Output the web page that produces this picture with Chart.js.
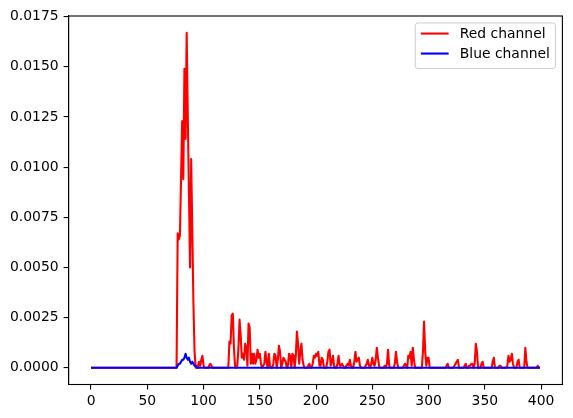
<!DOCTYPE html>
<html>
<head>
<meta charset="utf-8">
<script src="https://cdn.jsdelivr.net/npm/chart.js@4"></script>
<style>
  html, body { margin: 0; padding: 0; background: #fff; }
  canvas { display: block; }
</style>
</head>
<body>
<canvas id="myChart" width="573" height="418"></canvas>
<script>
// values, one per x index (0..399)
const redChannel = [
  0, 0, 0, 0, 0, 0, 0, 0, 0, 0,
  0, 0, 0, 0, 0, 0, 0, 0, 0, 0,
  0, 0, 0, 0, 0, 0, 0, 0, 0, 0,
  0, 0, 0, 0, 0, 0, 0, 0, 0, 0,
  0, 0, 0, 0, 0, 0, 0, 0, 0, 0,
  0, 0, 0, 0, 0, 0, 0, 0, 0, 0,
  0, 0, 0, 0, 0, 0, 0, 0, 0, 0,
  0, 0, 0, 0, 0, 0, 0, 0.0067, 0.0064, 0.0066,
  0.0095, 0.0123, 0.0094, 0.0149, 0.0114, 0.0167, 0.0125, 0.0088, 0.0050, 0.0104,
  0.0068, 0.0032, 0.0008, 0, 0.0001, 0, 0.0003, 0.0001, 0.0004, 0.0006,
  0.0001, 0, 0, 0, 0, 0.0001, 0.0002, 0.0001, 0, 0,
  0, 0, 0, 0, 0, 0, 0, 0, 0, 0,
  0, 0, 0, 0.0013, 0.0012, 0.0026, 0.0027, 0.0010, 0.0001, 0,
  0.0001, 0.0010, 0.0024, 0.0016, 0.0005, 0.0007, 0.0004, 0.0012, 0.0010, 0.0001,
  0.0022, 0.0020, 0.0002, 0.0007, 0.0002, 0.0007, 0.0002, 0.0004, 0.0009, 0.0005,
  0.0007, 0.0002, 0, 0.0001, 0.0002, 0.0008, 0.0003, 0, 0.0007, 0.0001,
  0, 0, 0.0002, 0.0007, 0.0006, 0, 0.0004, 0.0011, 0.0008, 0,
  0.0002, 0.0005, 0.0004, 0.0003, 0, 0.0001, 0.0007, 0.0006, 0, 0.0007,
  0.0006, 0, 0.0006, 0.0018, 0.0012, 0.0002, 0.0008, 0.0012, 0.0004, 0.0001,
  0, 0, 0, 0.0001, 0.0002, 0, 0, 0.0002, 0.0006, 0.0005,
  0.0007, 0.0006, 0.0008, 0.0001, 0.0001, 0.0005, 0.0004, 0, 0, 0,
  0.0003, 0.0008, 0.0009, 0.0001, 0.0003, 0.0006, 0.0001, 0, 0, 0.0002,
  0.0006, 0.0001, 0.0001, 0.0002, 0.0001, 0, 0, 0.0001, 0.0002, 0.0001,
  0.0004, 0.0001, 0, 0, 0.0003, 0.0008, 0.0003, 0.0004, 0.0005, 0.0001,
  0, 0, 0, 0, 0.0001, 0.0002, 0.0004, 0.0001, 0, 0.0002,
  0.0005, 0.0002, 0.0001, 0.0004, 0.0010, 0.0005, 0.0001, 0, 0, 0,
  0, 0.0001, 0, 0.0002, 0.0009, 0.0001, 0, 0, 0, 0,
  0.0002, 0.0008, 0.0003, 0, 0, 0, 0, 0, 0.0001, 0.0002,
  0.0001, 0, 0.0006, 0.0005, 0.0008, 0.0001, 0.0010, 0.0004, 0, 0,
  0, 0, 0, 0, 0, 0.0008, 0.0023, 0.0008, 0.0001, 0.0005,
  0.0005, 0, 0, 0, 0, 0, 0, 0, 0, 0,
  0, 0, 0, 0, 0, 0, 0.0001, 0.0002, 0, 0,
  0, 0, 0, 0.0001, 0.0002, 0.0003, 0.0004, 0, 0, 0,
  0, 0, 0.0001, 0.0002, 0, 0, 0.0001, 0.0001, 0.0002, 0.0002,
  0, 0.0002, 0.0012, 0.0008, 0, 0, 0, 0.0002, 0.0003, 0,
  0, 0, 0, 0, 0, 0, 0, 0.0003, 0.0005, 0,
  0, 0, 0, 0.0001, 0.0001, 0, 0, 0, 0, 0,
  0.0001, 0.0006, 0.0003, 0.0004, 0.0007, 0.0002, 0, 0, 0, 0.0003,
  0.0004, 0, 0, 0, 0, 0, 0.0010, 0.0003, 0, 0,
  0, 0, 0, 0, 0, 0, 0, 0.0001, 0, 0
];

const blueChannel = [
  0, 0, 0, 0, 0, 0, 0, 0, 0, 0,
  0, 0, 0, 0, 0, 0, 0, 0, 0, 0,
  0, 0, 0, 0, 0, 0, 0, 0, 0, 0,
  0, 0, 0, 0, 0, 0, 0, 0, 0, 0,
  0, 0, 0, 0, 0, 0, 0, 0, 0, 0,
  0, 0, 0, 0, 0, 0, 0, 0, 0, 0,
  0, 0, 0, 0, 0, 0, 0, 0, 0, 0,
  0, 0, 0, 0, 0, 0, 0, 0.0001, 0.0002, 0.0002,
  0.0003, 0.0004, 0.0004, 0.0005, 0.0007, 0.0005, 0.0004, 0.0005, 0.0003, 0.0002,
  0.0003, 0.0002, 0.0001, 0.0001, 0, 0, 0, 0, 0, 0,
  0, 0, 0, 0, 0, 0, 0, 0, 0, 0,
  0, 0, 0, 0, 0, 0, 0, 0, 0, 0,
  0, 0, 0, 0, 0, 0, 0, 0, 0, 0,
  0, 0, 0, 0, 0, 0, 0, 0, 0, 0,
  0, 0, 0, 0, 0, 0, 0, 0, 0, 0,
  0, 0, 0, 0, 0, 0, 0, 0, 0, 0,
  0, 0, 0, 0, 0, 0, 0, 0, 0, 0,
  0, 0, 0, 0, 0, 0, 0, 0, 0, 0,
  0, 0, 0, 0, 0, 0, 0, 0, 0, 0,
  0, 0, 0, 0, 0, 0, 0, 0, 0, 0,
  0, 0, 0, 0, 0, 0, 0, 0, 0, 0,
  0, 0, 0, 0, 0, 0, 0, 0, 0, 0,
  0, 0, 0, 0, 0, 0, 0, 0, 0, 0,
  0, 0, 0, 0, 0, 0, 0, 0, 0, 0,
  0, 0, 0, 0, 0, 0, 0, 0, 0, 0,
  0, 0, 0, 0, 0, 0, 0, 0, 0, 0,
  0, 0, 0, 0, 0, 0, 0, 0, 0, 0,
  0, 0, 0, 0, 0, 0, 0, 0, 0, 0,
  0, 0, 0, 0, 0, 0, 0, 0, 0, 0,
  0, 0, 0, 0, 0, 0, 0, 0, 0, 0,
  0, 0, 0, 0, 0, 0, 0, 0, 0, 0,
  0, 0, 0, 0, 0, 0, 0, 0, 0, 0,
  0, 0, 0, 0, 0, 0, 0, 0, 0, 0,
  0, 0, 0, 0, 0, 0, 0, 0, 0, 0,
  0, 0, 0, 0, 0, 0, 0, 0, 0, 0,
  0, 0, 0, 0, 0, 0, 0, 0, 0, 0,
  0, 0, 0, 0, 0, 0, 0, 0, 0, 0,
  0, 0, 0, 0, 0, 0, 0, 0, 0, 0,
  0, 0, 0, 0, 0, 0, 0, 0, 0, 0,
  0, 0, 0, 0, 0, 0, 0, 0, 0, 0
];

const seriesNames = ['Red channel', 'Blue channel'];
const seriesColors = ['red', 'blue'];
const xTicks = [0, 50, 100, 150, 200, 250, 300, 350, 400];
const yTicks = [0, 0.0025, 0.005, 0.0075, 0.01, 0.0125, 0.015, 0.0175];

// x position of each sample is just its index
const xValues = redChannel.map((_, i) => i);

const FONT = '"DejaVu Sans", sans-serif';
const FS = 13.9;
Chart.defaults.font.family = FONT;
Chart.defaults.font.size = FS;
Chart.defaults.color = '#000';

// matplotlib style box around the plot
const framePlugin = {
  id: 'frame',
  afterDatasetsDraw(chart) {
    const { ctx, chartArea: a } = chart;
    ctx.save();
    ctx.strokeStyle = '#000';
    ctx.lineWidth = 1.1;
    ctx.strokeRect(a.left, a.top, a.right - a.left, a.bottom - a.top);
    ctx.restore();
  }
};

// legend box in upper right, drawn by hand
const legendPlugin = {
  id: 'mplLegend',
  afterDraw(chart) {
    const { ctx, chartArea: a } = chart;
    ctx.save();
    ctx.font = `${FS}px ${FONT}`;
    const textW = Math.max(...seriesNames.map(n => ctx.measureText(n).width));
    const pad = 0.4 * FS, handle = 2 * FS, gap = 0.8 * FS;
    const w = pad + handle + gap + textW + pad;
    const h = 45.6;
    const right = a.right - 0.5 * FS;
    const top = a.top + 0.5 * FS;
    const left = right - w;
    const r = 2.8;

    ctx.beginPath();
    ctx.moveTo(left + r, top);
    ctx.arcTo(right, top, right, top + h, r);
    ctx.arcTo(right, top + h, left, top + h, r);
    ctx.arcTo(left, top + h, left, top, r);
    ctx.arcTo(left, top, right, top, r);
    ctx.closePath();
    ctx.fillStyle = 'rgba(255,255,255,0.8)';
    ctx.fill();
    ctx.strokeStyle = '#cccccc';
    ctx.lineWidth = 1;
    ctx.stroke();

    seriesNames.forEach((name, i) => {
      const y = top + 10.6 + i * 20;
      ctx.beginPath();
      ctx.moveTo(left + pad, y);
      ctx.lineTo(left + pad + handle, y);
      ctx.strokeStyle = seriesColors[i];
      ctx.lineWidth = 2.1;
      ctx.stroke();
      ctx.fillStyle = '#000';
      ctx.textBaseline = 'middle';
      ctx.textAlign = 'left';
      ctx.fillText(name, left + pad + handle + gap, y + 0.5);
    });
    ctx.restore();
  }
};

const ctx = document.getElementById('myChart');

const myChart = new Chart(ctx, {
  type: 'line',
  data: {
    labels: xValues,
    datasets: [
      {
        label: seriesNames[0],
        data: redChannel,
        borderColor: seriesColors[0],
        borderWidth: 2.1,
        pointRadius: 0,
        tension: 0,
        borderJoinStyle: 'round',
        order: 1
      },
      {
        label: seriesNames[1],
        data: blueChannel,
        borderColor: seriesColors[1],
        borderWidth: 2.1,
        pointRadius: 0,
        tension: 0,
        borderJoinStyle: 'round',
        order: 0
      }
    ]
  },
  options: {
    responsive: false,
    animation: false,
    events: [],
    layout: { padding: { top: 16, right: 10.6, left: 0, bottom: 0 } },
    plugins: {
      legend: { display: false },
      tooltip: { enabled: false }
    },
    scales: {
      x: {
        type: 'linear',
        min: -19.95,
        max: 418.95,
        afterBuildTicks: (s) => { s.ticks = xTicks.map(v => ({ value: v })); },
        afterFit: (s) => { s.height = 33.5; s.paddingLeft = 0; s.paddingRight = 0; },
        grid: { drawOnChartArea: false, tickLength: 5, color: '#000', lineWidth: 1.1 },
        border: { color: '#000', width: 1.1 },
        ticks: { padding: 4, maxRotation: 0, autoSkip: false, callback: (v) => String(v) }
      },
      y: {
        min: -0.000835,
        max: 0.017535,
        afterBuildTicks: (s) => { s.ticks = yTicks.map(v => ({ value: v })); },
        afterFit: (s) => { s.width = 68.6; s.paddingTop = 0; s.paddingBottom = 0; },
        grid: { drawOnChartArea: false, tickLength: 5, color: '#000', lineWidth: 1.1 },
        border: { color: '#000', width: 1.1 },
        ticks: { padding: 5, autoSkip: false, callback: (v) => Number(v).toFixed(4) }
      }
    }
  },
  plugins: [framePlugin, legendPlugin]
});
</script>
</body>
</html>
